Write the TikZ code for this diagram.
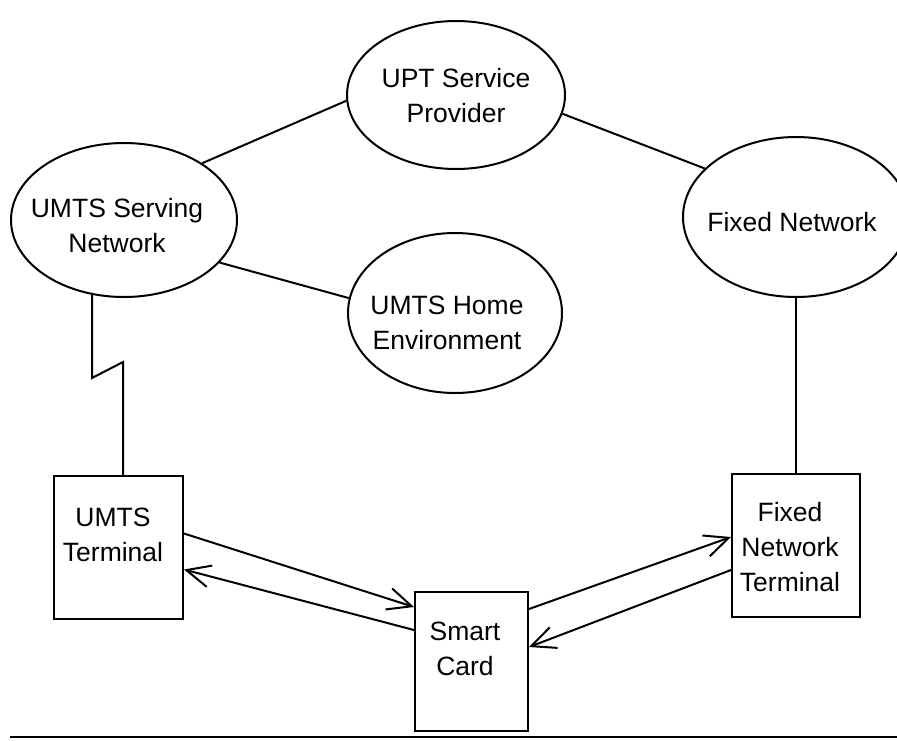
\documentclass[tikz,border=0pt]{standalone}
\usepackage{fontspec}
\setmainfont{Liberation Sans}
\usetikzlibrary{shapes.geometric,arrows.meta}

\begin{document}
\begin{tikzpicture}[
        ell/.style = {draw, ellipse, line width = 2pt, inner sep = 0pt},
        box/.style = {draw, rectangle, line width = 2pt, inner sep = 0pt},
        txt/.style = {align = center, font = \fontsize{26.5pt}{35pt}\selectfont},
        link/.style = {line width = 2pt},
        flow/.style = {->, > = {Straight Barb[length = 24pt, width = 22pt]}, line width = 2pt}
    ]
        \useasboundingbox (0pt, 0pt) rectangle (897pt, -740pt);

        % Nodes
        \node [ell, minimum width = 218pt, minimum height = 148pt] (upt) at (456pt, -95pt) {};
        \node [ell, minimum width = 226pt, minimum height = 154pt] (serv) at (124pt, -220pt) {};
        \node [ell, minimum width = 226pt, minimum height = 160pt] (fixed) at (796pt, -217pt) {};
        \node [ell, minimum width = 214pt, minimum height = 160pt] (home) at (455pt, -313pt) {};
        \node [box, minimum width = 129pt, minimum height = 143pt] (term) at (118.5pt, -547.5pt) {};
        \node [box, minimum width = 113pt, minimum height = 139pt] (card) at (471.5pt, -661.5pt) {};
        \node [box, minimum width = 128pt, minimum height = 143pt] (fnt) at (796pt, -545.5pt) {};

        % Labels
        \node [txt] (upttext) at (456pt, -96pt) {UPT Service\\Provider};
        \node [txt] (servtext) at (117pt, -226pt) {UMTS Serving\\Network};
        \node [txt] (fixedtext) at (792pt, -222pt) {Fixed Network};
        \node [txt] (hometext) at (447pt, -323pt) {UMTS Home\\Environment};
        \node [txt] (termtext) at (113pt, -535pt) {UMTS\\Terminal};
        \node [txt] (cardtext) at (465pt, -649pt) {Smart\\Card};
        \node [txt] (fnttext) at (790pt, -547pt) {Fixed\\Network\\Terminal};

        % Draw the links
        \draw [link] (serv.36) -- (upt.183);
        \draw [link] (upt.350) -- (fixed.152);
        \draw [link] (serv.336) -- (home.172);
        \draw [link] (fixed.south) -- (fnt.north);
        \draw [link] (serv.247) -- ++(0pt, -83pt) -- ++(31pt, 16pt) coordinate (zz) -- (zz |- term.north);

        % Arrows
        \draw [flow] ([yshift = 14pt]term.east) -- ([yshift = -16pt]card.north west);
        \draw [flow] ([yshift = -39pt]card.north west) -- ([yshift = -22pt]term.east);
        \draw [flow] ([yshift = -18pt]card.north east) -- ([yshift = 8.5pt]fnt.west);
        \draw [flow] ([yshift = -24.5pt]fnt.west) -- ([yshift = -56pt]card.north east);

        % Bottom rule
        \draw [line width = 1.5pt] (10pt, -737pt) -- (897pt, -737pt);

    \end{tikzpicture}
\end{document}
